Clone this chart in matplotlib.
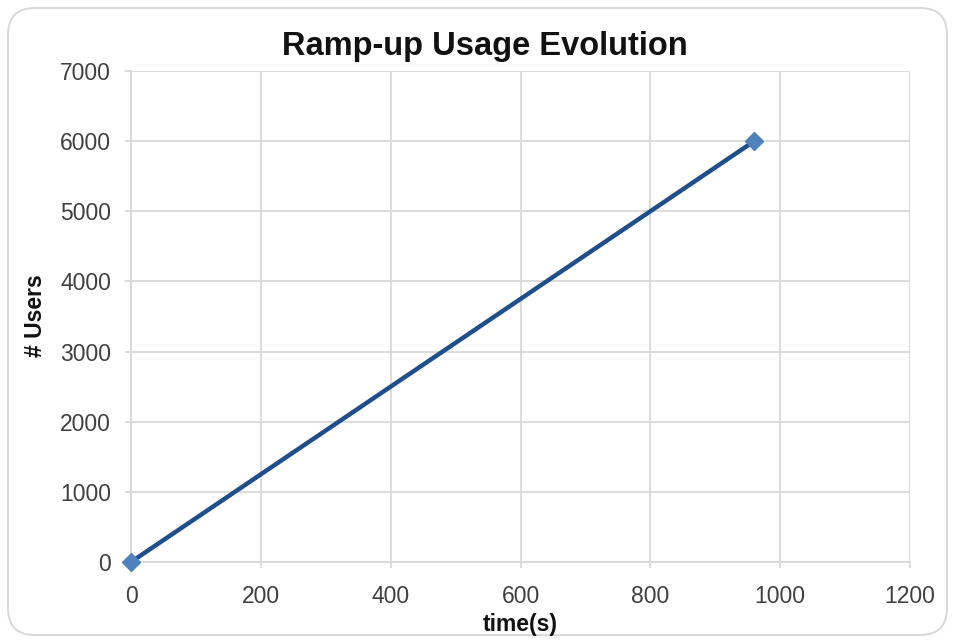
import matplotlib
matplotlib.use("Agg")
import matplotlib.pyplot as plt
from matplotlib.patches import FancyBboxPatch

time_s = [0, 960]
users = [0, 6000]
x_ticks = [0, 200, 400, 600, 800, 1000, 1200]
y_ticks = [0, 1000, 2000, 3000, 4000, 5000, 6000, 7000]

plt.rcParams['font.family'] = ['Liberation Sans', 'DejaVu Sans']

fig = plt.figure(figsize=(9.55, 6.42), dpi=100)
fig.patch.set_facecolor('white')
border = FancyBboxPatch((8/955, 7/642), 939/955, 627/642,
                        boxstyle="round,pad=0,rounding_size=0.028",
                        transform=fig.transFigure, facecolor='none',
                        edgecolor='#DADADA', linewidth=1.5, mutation_aspect=955/642,
                        zorder=-1)
fig.patches.append(border)

ax = fig.add_axes([131/955, 1-562/642, (910-131)/955, (562-71)/642])
ax.set_facecolor('none')
ax.plot(time_s, users, color='#1F4E8C', linewidth=3.2, zorder=3)
ax.plot(time_s, users, linestyle='none', marker='D', markersize=9.5,
        color='#4F81BD', zorder=4, clip_on=False)

ax.set_xlim(0, 1200)
ax.set_ylim(0, 7000)
ax.set_xticks(x_ticks)
ax.set_yticks(y_ticks)
ax.grid(True, color='#D9D9D9', linewidth=1.3)
ax.set_axisbelow(True)
for s in ['top', 'right']:
    ax.spines[s].set_visible(False)
for s in ['left', 'bottom']:
    ax.spines[s].set_color('#D9D9D9')
    ax.spines[s].set_linewidth(1.3)
ax.tick_params(axis='both', colors='#D9D9D9', labelcolor='#404040',
               labelsize=16.5, length=4.3, width=1.3, direction='out')
ax.tick_params(axis='x', pad=12)
ax.tick_params(axis='y', pad=10)

fig.text(520.5/955, 1-625/642, 'time(s)', ha='center', va='center',
         fontsize=16.5, fontweight='bold', color='#111111')
fig.text(35.5/955, 1-316/642, '# Users', ha='center', va='center', rotation=90,
         fontsize=16.5, fontweight='bold', color='#111111')
fig.text(485/955, 1-46/642, 'Ramp-up Usage Evolution', ha='center', va='center',
         fontsize=23.5, fontweight='bold', color='#111111')

fig.savefig('out.png', dpi=100)
